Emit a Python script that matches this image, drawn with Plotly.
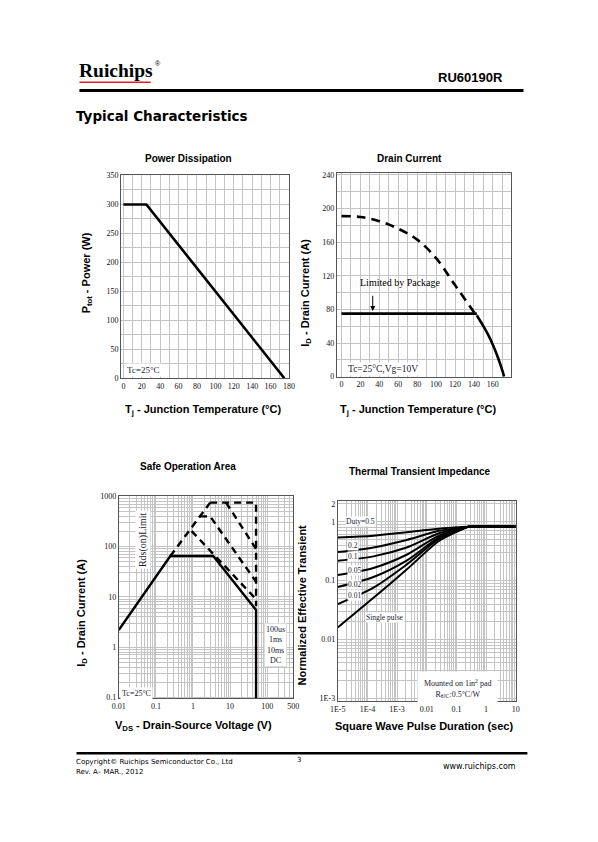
import plotly.graph_objects as go
import numpy as np

# page size; the browser body keeps an 8px margin, so the figure is made
# 16px smaller than the page and every page coordinate is shifted by 8px.
W, H = 598, 842
OFF = 8
FW, FH = W - 2 * OFF, H - 2 * OFF

# ---------------- data ----------------
# Power dissipation
pd_tj = [0, 25, 175]
pd_p = [300, 300, 0]

# Drain current
dc_pkg_t = [0, 143]
dc_pkg_i = [75, 75]
dc_dash_t = [0, 20, 40, 60, 80, 100, 120, 143]
dc_dash_i = [191, 190, 185, 176, 163, 141, 109, 72]
dc_solid_t = [143, 150, 155, 160, 165, 169, 172]
dc_solid_i = [73, 60, 50, 38, 24, 11, 0]

# Safe operating area
soa_dc_v = [0.01, 0.245, 3.5, 50, 50]
soa_dc_i = [2.2, 65, 65, 5.5, 0.085]
soa_rds_v = [0.245, 2.9]
soa_rds_i = [65, 750]
soa_top_v = [2.9, 50, 50]
soa_top_i = [750, 750, 6.5]
soa_100us_v = [7.8, 50]
soa_100us_i = [750, 90]
soa_1ms_v = [1.55, 2.9, 50]
soa_1ms_i = [400, 400, 20]
soa_10ms_v = [0.92, 50]
soa_10ms_i = [204, 9]

# Thermal transient impedance
zt_t = [1e-5, 1.6e-4, 2.1e-3, 0.026, 0.155, 0.26, 10]
zt_d05 = [0.54, 0.58, 0.66, 0.76, 0.81, 0.82, 0.825]
zt_d02 = [0.305, 0.366, 0.49, 0.70, 0.79, 0.82, 0.825]
zt_d01 = [0.218, 0.258, 0.365, 0.636, 0.78, 0.82, 0.825]
zt_d005 = [0.124, 0.164, 0.275, 0.58, 0.77, 0.82, 0.825]
zt_d002 = [0.078, 0.115, 0.218, 0.54, 0.76, 0.82, 0.825]
zt_d001 = [0.040, 0.076, 0.187, 0.51, 0.75, 0.82, 0.825]
zt_single = [0.016, 0.051, 0.154, 0.47, 0.74, 0.82, 0.825]
zt_labels = ["Duty=0.5", "0.2", "0.1", "0.05", "0.02", "0.01", "Single pulse"]

# ---------------- layout helpers ----------------
def px(x):
    return (x - OFF) / FW

def py(y):
    return 1 - (y - OFF) / FH

GRID = "#c4c4c4"
FRAME = "#555555"
TICKF = dict(family="Liberation Serif", size=8, color="#111111")
BLK = "#000000"

fig = go.Figure()

def ax_common(**kw):
    d = dict(showline=True, mirror=True, linecolor=FRAME, linewidth=1,
             showgrid=True, gridcolor=GRID, gridwidth=1, ticks="",
             zeroline=False, tickfont=TICKF, fixedrange=True, color="#111111")
    d.update(kw)
    return d

# Plot 1
fig.add_trace(go.Scatter(x=pd_tj, y=pd_p, mode="lines", line=dict(color=BLK, width=2.6),
                         xaxis="x", yaxis="y", showlegend=False))
# Plot 2
fig.add_trace(go.Scatter(x=dc_dash_t, y=dc_dash_i, mode="lines",
                         line=dict(color=BLK, width=2.6, dash="9px,6px", shape="spline"),
                         xaxis="x2", yaxis="y2", showlegend=False))
fig.add_trace(go.Scatter(x=dc_pkg_t, y=dc_pkg_i, mode="lines", line=dict(color=BLK, width=2.6),
                         xaxis="x2", yaxis="y2", showlegend=False))
fig.add_trace(go.Scatter(x=dc_solid_t, y=dc_solid_i, mode="lines",
                         line=dict(color=BLK, width=2.6, shape="spline", smoothing=1.0),
                         xaxis="x2", yaxis="y2", showlegend=False))
# Plot 3
DASH = "7px,5px"
for vx, iy, dash in [(soa_rds_v, soa_rds_i, DASH), (soa_top_v, soa_top_i, DASH),
                     (soa_100us_v, soa_100us_i, DASH), (soa_1ms_v, soa_1ms_i, DASH),
                     (soa_10ms_v, soa_10ms_i, DASH), (soa_dc_v, soa_dc_i, "solid")]:
    fig.add_trace(go.Scatter(x=vx, y=iy, mode="lines", line=dict(color=BLK, width=2.4, dash=dash),
                             xaxis="x3", yaxis="y3", showlegend=False))
# Plot 4
for ys in [zt_d05, zt_d02, zt_d01, zt_d005, zt_d002, zt_d001, zt_single]:
    fig.add_trace(go.Scatter(x=zt_t, y=ys, mode="lines",
                             line=dict(color=BLK, width=2.0, shape="spline", smoothing=0.8),
                             xaxis="x4", yaxis="y4", showlegend=False))

MINOR_LIN = lambda dt: dict(dtick=dt, showgrid=True, gridcolor=GRID, ticks="")
MINOR_LOG = dict(dtick="D1", showgrid=True, gridcolor=GRID, ticks="")

fig.update_layout(
    width=FW, height=FH, margin=dict(l=0, r=0, t=0, b=0),
    paper_bgcolor="white", plot_bgcolor="white", showlegend=False,
    xaxis=ax_common(domain=[px(115.7), px(287.7)], range=[-2.5, 180], tickvals=list(range(0, 181, 20)),
                    minor=MINOR_LIN(10), anchor="y"),
    yaxis=ax_common(domain=[py(378.3), py(173.3)], range=[0, 350], tickvals=list(range(0, 351, 50)),
                    minor=MINOR_LIN(25), anchor="x"),
    xaxis2=ax_common(domain=[px(336.7), px(515)], range=[-5, 179], tickvals=list(range(0, 181, 20)),
                     minor=MINOR_LIN(10), anchor="y2"),
    yaxis2=ax_common(domain=[py(376.7), py(171)], range=[0, 242], tickvals=list(range(0, 241, 40)),
                     minor=MINOR_LIN(20), anchor="x2"),
    xaxis3=ax_common(domain=[px(113.3), px(292)], type="log", range=[-2, np.log10(500)],
                     tickvals=[0.01, 0.1, 1, 10, 100, 500], ticktext=["0.01", "0.1", "1", "10", "100", "500"],
                     minor=MINOR_LOG, anchor="y3"),
    yaxis3=ax_common(domain=[py(702), py(497.7)], type="log", range=[-1.02, 3],
                     tickvals=[0.1, 1, 10, 100, 1000], ticktext=["0.1", "1", "10", "100", "1000"],
                     minor=MINOR_LOG, anchor="x3"),
    xaxis4=ax_common(domain=[px(337.7), px(520)], type="log", range=[-5, 1],
                     tickvals=[1e-5, 1e-4, 1e-3, 0.01, 0.1, 1, 10],
                     ticktext=["1E-5", "1E-4", "1E-3", "0.01", "0.1", "1", "10"],
                     minor=MINOR_LOG, anchor="y4"),
    yaxis4=ax_common(domain=[py(705), py(502.7)], type="log", range=[-3.05, 0.346],
                     tickvals=[0.001, 0.01, 0.1, 1, 2], ticktext=["1E-3", "0.01", "0.1", "1", "2"],
                     minor=MINOR_LOG, anchor="x4"),
)

ann = []
def A(x, y, text, size=10, family="Liberation Sans", bold=False, xanchor="center", angle=0, color="#000", **kw):
    t = f"<b>{text}</b>" if bold else text
    d = dict(x=px(x), y=py(y), xref="paper", yref="paper", text=t, showarrow=False,
             font=dict(family=family, size=size, color=color), xanchor=xanchor, yanchor="middle",
             textangle=angle)
    d.update(kw)
    ann.append(d)

# Header / footer
A(70, 67, "Ruichips", size=19.5, family="Liberation Serif", bold=True, xanchor="left")
A(148, 60, "®", size=7, family="Liberation Sans", xanchor="left")
A(509, 74, "RU60190R", size=13, bold=True, xanchor="right")
A(67, 113, "Typical Characteristics", size=13.5, family="DejaVu Sans", bold=True, xanchor="left")
A(67, 766, "Copyright© Ruichips Semiconductor Co., Ltd", size=7, family="DejaVu Sans", xanchor="left")
A(67, 776, "Rev. A– MAR., 2012", size=7, family="DejaVu Sans", xanchor="left")
A(298, 764, "3", size=7, family="DejaVu Sans")
A(522, 771, "www.ruichips.com", size=8, family="DejaVu Sans", xanchor="right")

# Subplot titles
A(185, 156, "Power Dissipation", size=10, bold=True)
A(411, 156, "Drain Current", size=10, bold=True)
A(184, 468, "Safe Operation Area", size=10, bold=True)
A(422, 473, "Thermal Transient Impedance", size=10, bold=True)

# Axis titles
A(200, 410, "T<sub>j</sub> - Junction Temperature (°C)", size=11, bold=True)
A(420, 410, "T<sub>j</sub> - Junction Temperature (°C)", size=11, bold=True)
A(81, 272, "P<sub>tot</sub> - Power (W)", size=11, bold=True, angle=-90)
A(305, 292, "I<sub>D</sub> - Drain Current (A)", size=11, bold=True, angle=-90)
A(76, 615, "I<sub>D</sub> - Drain Current (A)", size=11, bold=True, angle=-90)
A(302, 608, "Normalized Effective Transient", size=11, bold=True, angle=-90)
A(190, 730, "V<sub>DS</sub> - Drain-Source Voltage (V)", size=11, bold=True)
A(426, 730, "Square Wave Pulse Duration (sec)", size=11, bold=True)

SER = "Liberation Serif"
NOTE = "#222233"
# In-plot notes
ann.append(dict(x=0, y=0, xref="x", yref="y", text="Tc=25°C", showarrow=False, xanchor="left", yanchor="bottom",
                xshift=2, yshift=1, bgcolor="white", font=dict(family=SER, size=9, color=NOTE)))
ann.append(dict(x=0, y=0, xref="x2", yref="y2", text="Tc=25°C,Vg=10V", showarrow=False, xanchor="left", yanchor="bottom",
                xshift=4, yshift=1, bgcolor="white", font=dict(family=SER, size=9.5, color=NOTE)))
ann.append(dict(x=33, y=78, ax=33, ay=98, xref="x2", yref="y2", axref="x2", ayref="y2", text="", showarrow=True,
                arrowhead=2, arrowsize=1, arrowwidth=1, arrowcolor="#000"))
ann.append(dict(x=62, y=103, xref="x2", yref="y2", text="Limited by Package", showarrow=False,
                yanchor="bottom", font=dict(family=SER, size=10, color="#000")))
ann.append(dict(x=np.log10(0.0105), y=np.log10(0.12), xref="x3", yref="y3", text="Tc=25°C", showarrow=False,
                xanchor="left", yanchor="middle", bgcolor="white", font=dict(family=SER, size=8, color=NOTE)))
ann.append(dict(x=np.log10(0.045), y=np.log10(135), xref="x3", yref="y3", text="Rds(on)Limit", showarrow=False,
                textangle=-90, bgcolor="white", font=dict(family=SER, size=10, color=NOTE)))
ann.append(dict(x=np.log10(170), y=np.log10(1.1), xref="x3", yref="y3", text="100us<br>1ms<br>10ms<br>DC",
                showarrow=False, bgcolor="white", bordercolor="#dddddd", borderwidth=1,
                font=dict(family=SER, size=8, color=NOTE)))

lab_pos = [(1.7e-5, 1.0), (2.0e-5, 0.40), (2.0e-5, 0.26), (2.0e-5, 0.15), (2.0e-5, 0.085), (2.0e-5, 0.056),
           (8e-5, 0.0235)]
for (lx, ly), t in zip(lab_pos, zt_labels):
    ann.append(dict(x=np.log10(lx), y=np.log10(ly), xref="x4", yref="y4", text=t, showarrow=False, xanchor="left",
                    bgcolor="white", borderpad=0, font=dict(family=SER, size=7.5, color=NOTE)))
ann.append(dict(x=np.log10(0.105), y=np.log10(0.00145), xref="x4", yref="y4",
                text="Mounted on 1in<sup>2</sup> pad<br>R<sub>θJC</sub>:0.5°C/W", showarrow=False,
                bgcolor="white", borderpad=6, font=dict(family=SER, size=8, color=NOTE)))

fig.update_layout(annotations=ann)

shapes = [
    dict(type="line", xref="paper", yref="paper", x0=px(73), x1=px(528), y0=py(87.3), y1=py(87.3),
         line=dict(color="#000", width=3)),
    dict(type="line", xref="paper", yref="paper", x0=px(73), x1=px(146), y0=py(79), y1=py(79),
         line=dict(color="#e02020", width=1.5)),
    dict(type="line", xref="paper", yref="paper", x0=px(70), x1=px(532), y0=py(757.5), y1=py(757.5),
         line=dict(color="#000", width=2.5)),
]
fig.update_layout(shapes=shapes)

fig.write_html("out.html")
